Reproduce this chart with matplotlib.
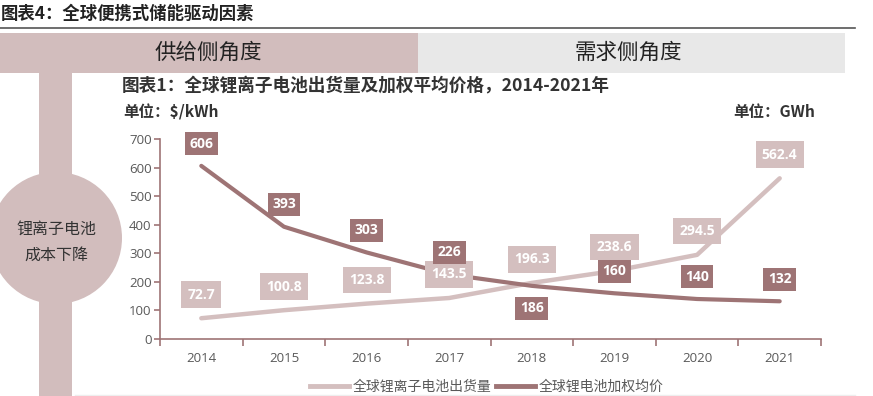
import matplotlib
matplotlib.use("Agg")
import matplotlib.pyplot as plt
from matplotlib.patches import Rectangle, Circle
from matplotlib.lines import Line2D

years = ["2014", "2015", "2016", "2017", "2018", "2019", "2020", "2021"]
shipments = [72.7, 100.8, 123.8, 143.5, 196.3, 238.6, 294.5, 562.4]
prices = [606, 393, 303, 226, 186, 160, 140, 132]
yticks = [0, 100, 200, 300, 400, 500, 600, 700]

CJK = ['Noto Sans CJK SC', 'DejaVu Sans']
NUM = ['Open Sans', 'Noto Sans CJK SC']

LIGHT = '#D4BFBF'
DARK = '#9E7475'
BAND = '#D2BDBD'
GRAY_BAND = '#E8E8E8'
TXT = '#333333'

W, H = 873, 396
fig = plt.figure(figsize=(W / 100, H / 100), dpi=100)
fig.patch.set_facecolor('white')

def fx(x):
    return x / W

def fy(y):
    return 1 - y / H

# Background decorations
bg = fig.add_axes([0, 0, 1, 1])
bg.set_xlim(0, W)
bg.set_ylim(H, 0)
bg.axis('off')
bg.add_patch(Rectangle((0, 33), 418, 40, color=BAND, lw=0))
bg.add_patch(Rectangle((418, 33), 427, 40, color=GRAY_BAND, lw=0))
bg.plot([0, 855], [27.5, 27.5], color='#555555', lw=1.2)
bg.add_patch(Rectangle((39, 73), 33, H - 73, color=BAND, lw=0))
bg.add_patch(Circle((56, 238), 66, color=BAND, lw=0))
bg.plot([75, 855], [394.5, 394.5], color='#EEEEEE', lw=1)

bg.text(1, 14, '图表4：全球便携式储能驱动因素', fontsize=12.5, family=CJK,
        color='#222222', va='center', ha='left', fontweight='bold')
bg.text(208, 53, '供给侧角度', fontsize=15.5, family=CJK, color='#222222',
        va='center', ha='center')
bg.text(628, 53, '需求侧角度', fontsize=15.5, family=CJK, color='#222222',
        va='center', ha='center')
bg.text(56, 242, '锂离子电池\n成本下降', fontsize=11.5, family=CJK, color=TXT,
        va='center', ha='center', linespacing=1.7)
bg.text(122, 85, '图表1：全球锂离子电池出货量及加权平均价格，2014-2021年',
        fontsize=12.7, family=CJK, color=TXT, va='center', ha='left',
        fontweight='bold')
bg.text(123, 112, '单位：$/kWh', fontsize=11.2, family=CJK, color=TXT,
        va='center', ha='left', fontweight='bold')
bg.text(733, 112, '单位：GWh', fontsize=11.2, family=CJK, color=TXT,
        va='center', ha='left', fontweight='bold')

# Chart axes
left, right, top, bottom = 160, 821, 139, 339
ax = fig.add_axes([fx(left), fy(bottom), fx(right - left), (bottom - top) / H])
ax.set_facecolor('none')
x = list(range(len(years)))
ax.plot(x, shipments, color=LIGHT, lw=3.2, solid_capstyle='round', zorder=2)
ax.plot(x, prices, color=DARK, lw=3.0, solid_capstyle='round', zorder=3)
ax.set_xlim(-0.5, len(years) - 0.5)
ax.set_ylim(0, 700)
ax.set_yticks(yticks)
ax.set_yticklabels([str(v) for v in yticks], family=NUM, fontsize=9.5, color='#595959')
ax.set_xticks([i - 0.5 for i in range(len(years) + 1)])
ax.set_xticklabels([])
ax.set_xticks(x, minor=True)
ax.set_xticklabels(years, minor=True, family=NUM, fontsize=9.5, color='#595959')
ax.tick_params(axis='x', which='minor', length=0, pad=9)
ax.tick_params(axis='x', which='major', length=5, color=DARK, width=1.2, direction='out')
ax.tick_params(axis='y', length=4, color=DARK, width=1.2, pad=2)
for s in ['top', 'right']:
    ax.spines[s].set_visible(False)
for s in ['left', 'bottom']:
    ax.spines[s].set_color(DARK)
    ax.spines[s].set_linewidth(1.2)

# Data labels (offsets in points)
price_off = [16, 16, 16, 16, -16, 16, 16, 16]
ship_off = [17, 17, 17, 17, 17, 17, 17, 17]
for i, v in enumerate(prices):
    ax.annotate(f'{v}', (i, v), xytext=(0, price_off[i]), textcoords='offset points',
                ha='center', va='center', fontsize=10, color='white', fontweight='bold',
                family=NUM, zorder=5,
                bbox=dict(boxstyle='square,pad=0.32', fc=DARK, ec='none'))
for i, v in enumerate(shipments):
    ax.annotate(f'{v}', (i, v), xytext=(0, ship_off[i]), textcoords='offset points',
                ha='center', va='center', fontsize=10, color='white', fontweight='bold',
                family=NUM, zorder=4,
                bbox=dict(boxstyle='square,pad=0.45', fc=LIGHT, ec='none'))

# Legend
handles = [Line2D([0], [0], color=LIGHT, lw=3.5),
           Line2D([0], [0], color=DARK, lw=3.5)]
fig.legend(handles, ['全球锂离子电池出货量', '全球锂电池加权均价'],
           loc='center', bbox_to_anchor=(fx(487), fy(387)), ncol=2, frameon=False,
           prop={'family': CJK, 'size': 10}, labelcolor='#595959',
           handlelength=2.8, columnspacing=0.3, handletextpad=0.3,
           borderpad=0.1)

fig.savefig('out.png', dpi=100, facecolor='white')
